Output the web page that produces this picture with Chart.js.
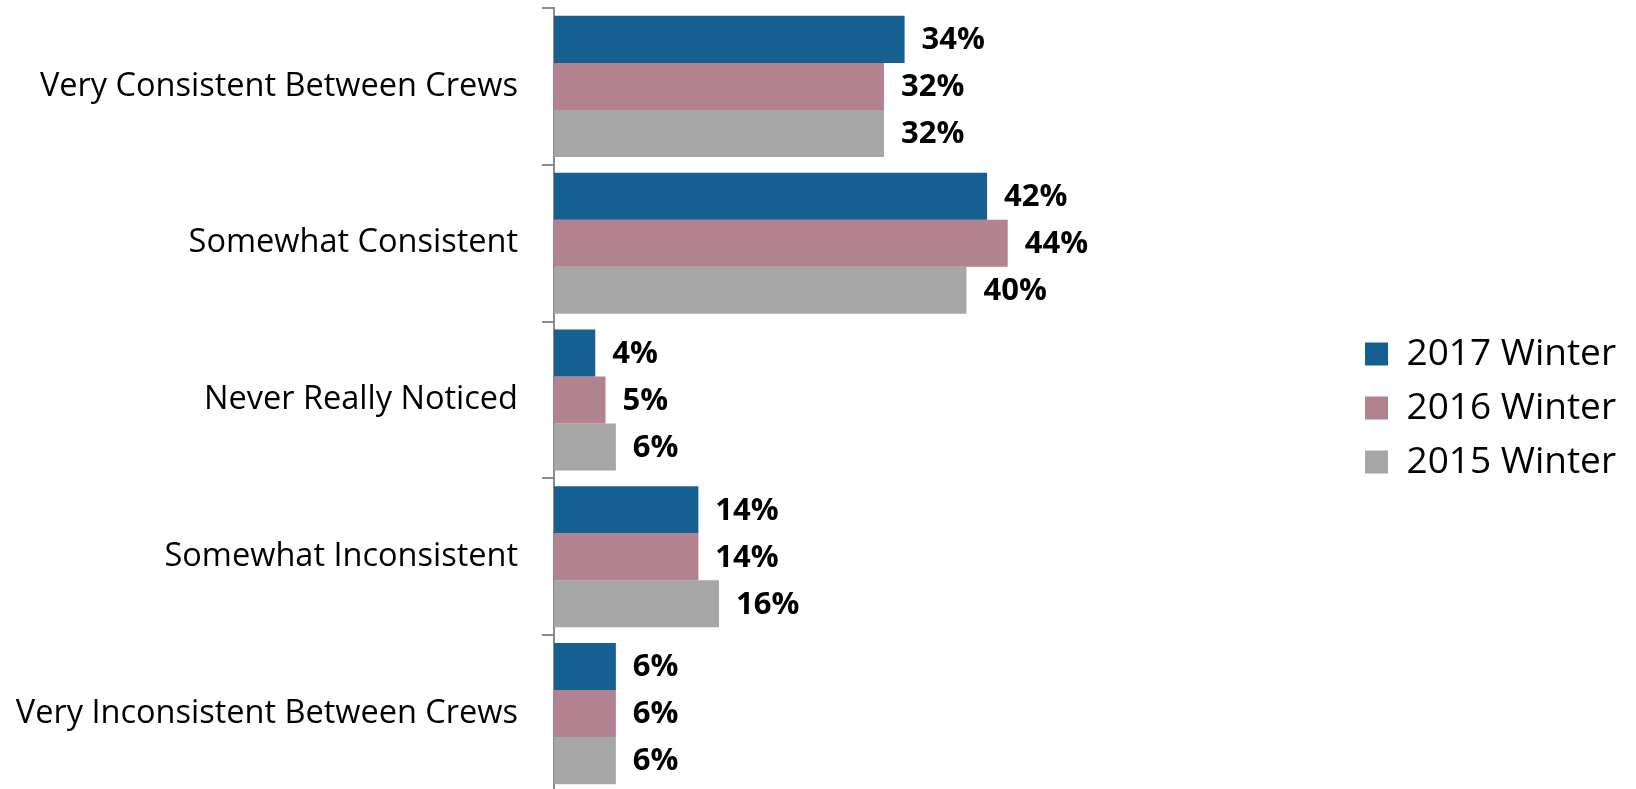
<!DOCTYPE html>
<html>
<head>
<meta charset="utf-8">
<script src="https://cdn.jsdelivr.net/npm/chart.js@4"></script>
<style>
  html, body { margin: 0; padding: 0; background: #fff; overflow: hidden; }
  #wrap { width: 1636px; height: 789px; overflow: hidden; }
</style>
</head>
<body>
<div id="wrap"><canvas id="mychart" width="1636" height="792"></canvas></div>
<script>
// categories, top to bottom
var categories = [
    'Very Consistent Between Crews',
    'Somewhat Consistent',
    'Never Really Noticed',
    'Somewhat Inconsistent',
    'Very Inconsistent Between Crews'
]
var seriesNames = ['2017 Winter', '2016 Winter', '2015 Winter']
// percent values
var winter2017 = [34, 42, 4, 14, 6]
var winter2016 = [32, 44, 5, 14, 6]
var winter2015 = [32, 40, 6, 16, 6]
var seriesColors = ['#156090', '#b2828f', '#a6a6a6']

var FONT = '"Open Sans", "Noto Sans", sans-serif'

// value labels next to each bar
var valueLabels = {
    id: 'valueLabels',
    afterDatasetsDraw(chart) {
        var c = chart.ctx
        c.save()
        c.font = 'bold 31px ' + FONT
        c.fillStyle = '#000'
        c.textAlign = 'left'
        c.textBaseline = 'middle'
        chart.data.datasets.forEach((ds, i) => {
            chart.getDatasetMeta(i).data.forEach((bar, j) => {
                c.fillText(ds.data[j] + '%', bar.x + 17, bar.y + 1)
            })
        })
        c.restore()
    }
}

var ctx = document.getElementById('mychart').getContext('2d')
var chart = new Chart(ctx, {
    type: 'bar',
    data: {
        labels: categories,
        datasets: [
            { label: seriesNames[0], data: winter2017, backgroundColor: seriesColors[0] },
            { label: seriesNames[1], data: winter2016, backgroundColor: seriesColors[1] },
            { label: seriesNames[2], data: winter2015, backgroundColor: seriesColors[2] }
        ]
    },
    options: {
        indexAxis: 'y',
        responsive: false,
        animation: false,
        categoryPercentage: 0.9,
        barPercentage: 1.0,
        layout: { padding: { top: 8, bottom: 0, left: 0, right: 10 } },
        scales: {
            x: { display: false, min: 0, max: 77 },
            y: {
                afterFit(scale) {
                    scale.width = 554
                    scale.paddingTop = 0
                    scale.paddingBottom = 0
                },
                grid: {
                    offset: true,
                    drawOnChartArea: false,
                    drawTicks: true,
                    tickLength: 12,
                    color: '#8c8c8c',
                    lineWidth: 2
                },
                border: { display: true, color: '#8c8c8c', width: 2 },
                ticks: {
                    padding: 24,
                    color: '#000',
                    font: { family: FONT, size: 32.5 }
                }
            }
        },
        plugins: {
            tooltip: { enabled: false },
            legend: {
                position: 'right',
                title: { display: true, text: '', padding: { top: 2, bottom: 2 }, font: { size: 10 } },
                labels: {
                    boxWidth: 23,
                    boxHeight: 23,
                    padding: 17,
                    color: '#000',
                    font: { family: FONT, size: 37 }
                }
            }
        }
    },
    plugins: [valueLabels]
})
</script>
</body>
</html>
